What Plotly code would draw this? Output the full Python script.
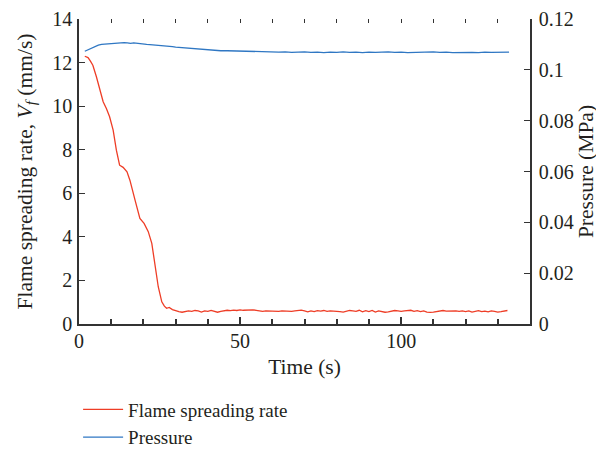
import plotly.graph_objects as go

# flame spreading rate (mm/s) vs time (s)
rate_t = [1.8, 2.8, 3.5, 4.3, 5.4, 6.6, 7.5, 8.5, 9.5, 10.6, 11.6, 12.6, 13.7, 14.9,
          15.8, 17.4, 18.9, 20.2, 21.5, 22.6, 23.6, 24.6, 25.7, 26.5, 27.2, 28.0]
rate_v = [12.29, 12.23, 12.08, 11.88, 11.35, 10.73, 10.2, 9.89, 9.51, 8.9, 7.98, 7.29,
          7.19, 6.99, 6.6, 5.69, 4.85, 4.62, 4.24, 3.7, 2.78, 1.71, 1.02, 0.82, 0.72, 0.76]
rate_t_tail = list(range(29, 134))
rate_v_tail = [0.66, 0.60, 0.57, 0.54, 0.56, 0.60, 0.58, 0.62, 0.60, 0.55, 0.60, 0.58,
               0.62, 0.57, 0.54, 0.58, 0.60, 0.63, 0.61, 0.64, 0.62, 0.65, 0.63, 0.64,
               0.62, 0.65, 0.63, 0.60, 0.58, 0.60, 0.59, 0.57, 0.59, 0.58, 0.60, 0.59,
               0.61, 0.58, 0.60, 0.62, 0.64, 0.60, 0.56, 0.60, 0.57, 0.61, 0.59, 0.62,
               0.58, 0.60, 0.59, 0.61, 0.57, 0.55, 0.58, 0.62, 0.60, 0.58, 0.63, 0.56,
               0.61, 0.57, 0.62, 0.55, 0.60, 0.58, 0.54, 0.56, 0.59, 0.62, 0.60, 0.58,
               0.60, 0.61, 0.63, 0.58, 0.61, 0.57, 0.60, 0.55, 0.53, 0.55, 0.58, 0.61,
               0.62, 0.59, 0.60, 0.59, 0.60, 0.58, 0.60, 0.57, 0.60, 0.55, 0.58, 0.61,
               0.57, 0.59, 0.56, 0.60, 0.58, 0.55, 0.57, 0.58, 0.62]

# chamber pressure (MPa) vs time (s)
pres_t = [1.8, 3, 4, 5, 6, 7, 8, 9, 10, 11, 12, 13, 14, 15, 16, 17, 18, 19, 20, 21, 22,
          23, 24, 25, 26, 27, 28, 29, 30, 31, 32, 33, 34, 35, 36, 37, 38, 39, 40, 42,
          44, 46, 48, 50, 52, 54, 56, 58, 60, 62, 64, 66, 68, 70, 72, 74, 76, 78, 80,
          82, 84, 86, 88, 90, 92, 94, 96, 98, 100, 102, 104, 106, 108, 110, 112, 114,
          116, 118, 120, 122, 124, 126, 128, 130, 132, 133.5]
pres_v = [0.1073, 0.1080, 0.1086, 0.1092, 0.1097, 0.1100, 0.1101, 0.1103, 0.1104,
          0.1106, 0.1107, 0.1106, 0.1107, 0.1106, 0.1104, 0.1106, 0.1104, 0.1103,
          0.1101, 0.1100, 0.1099, 0.1098, 0.1097, 0.1096, 0.1095, 0.1094, 0.1094,
          0.1091, 0.1089, 0.1088, 0.1087, 0.1086, 0.1084, 0.1083, 0.1082, 0.1080,
          0.1079, 0.1079, 0.1077, 0.1076, 0.1075, 0.1075, 0.1074, 0.1073, 0.1073,
          0.1072, 0.1073, 0.1071, 0.1071, 0.1070, 0.1071, 0.1069, 0.1070, 0.1071,
          0.1069, 0.1070, 0.1068, 0.1070, 0.1069, 0.1071, 0.1069, 0.1070, 0.1068,
          0.1070, 0.1069, 0.1070, 0.1071, 0.1069, 0.1070, 0.1068, 0.1069, 0.1070,
          0.1069, 0.1071, 0.1069, 0.1070, 0.1068, 0.1069, 0.1070, 0.1069, 0.1068,
          0.1070, 0.1069, 0.1070, 0.1069, 0.1070]

red = '#EE3D26'
blue = '#2F77C3'
fam = 'Liberation Serif'
txt = '#231F20'
axcol = '#333333'
tickfont = dict(family=fam, size=20, color=txt)
titlefont = dict(family=fam, size=21.5, color=txt)

trace0 = go.Scatter(x=rate_t + rate_t_tail, y=rate_v + rate_v_tail, mode='lines',
                    name='Flame spreading rate', line=dict(color=red, width=1.3))
trace1 = go.Scatter(x=pres_t, y=pres_v, mode='lines', name='Pressure', yaxis='y2',
                    line=dict(color=blue, width=1.3))
# empty trace so the top tick axis gets drawn
trace2 = go.Scatter(x=[], y=[], xaxis='x2', showlegend=False, hoverinfo='skip')

# page body has an 8px margin, so the figure is shifted 8px right and down
layout = go.Layout(
    width=596, height=449,
    font=dict(family=fam, size=18, color=txt),
    paper_bgcolor='white', plot_bgcolor='white',
    margin=dict(l=71, r=74, t=11, b=133, autoexpand=False),
    xaxis=dict(title=dict(text='Time (s)', standoff=8, font=titlefont), range=[0, 140],
               dtick=50, tickfont=tickfont, ticklabelstandoff=-2,
               ticks='inside', ticklen=7, tickwidth=1.5, tickcolor=axcol,
               minor=dict(dtick=10, ticks='inside', ticklen=5, tickcolor=axcol),
               showline=True, linecolor=axcol, linewidth=1.6, showgrid=False,
               zeroline=False, automargin=False),
    xaxis2=dict(overlaying='x', side='top', range=[0, 140], dtick=10, ticks='inside',
                ticklen=4, tickcolor=axcol, showticklabels=False, showline=False,
                showgrid=False, zeroline=False, automargin=False),
    yaxis=dict(title=dict(text='Flame spreading rate, <i>V<sub>f</sub></i> (mm/s)',
                          standoff=14, font=titlefont),
               range=[0, 14], dtick=2, tickfont=tickfont, ticklabelstandoff=1,
               ticks='inside', ticklen=6, tickcolor=axcol,
               showline=True, linecolor=axcol, linewidth=1.6, showgrid=False,
               zeroline=False, automargin=False),
    yaxis2=dict(title=dict(text='Pressure (MPa)', standoff=2, font=titlefont),
                overlaying='y', side='right', range=[0, 0.12], dtick=0.02,
                tickfont=tickfont, ticklabelstandoff=3, ticks='inside', ticklen=6,
                tickcolor=axcol, showline=True, linecolor=axcol, linewidth=1.6,
                showgrid=False, zeroline=False, automargin=False),
    legend=dict(x=-0.002, y=-0.218, xanchor='left', yanchor='top', orientation='v',
                font=dict(family=fam, size=19, color=txt), tracegroupgap=0,
                itemwidth=40),
)

fig = go.Figure(data=[trace0, trace1, trace2], layout=layout)
fig.write_html('out.html')
